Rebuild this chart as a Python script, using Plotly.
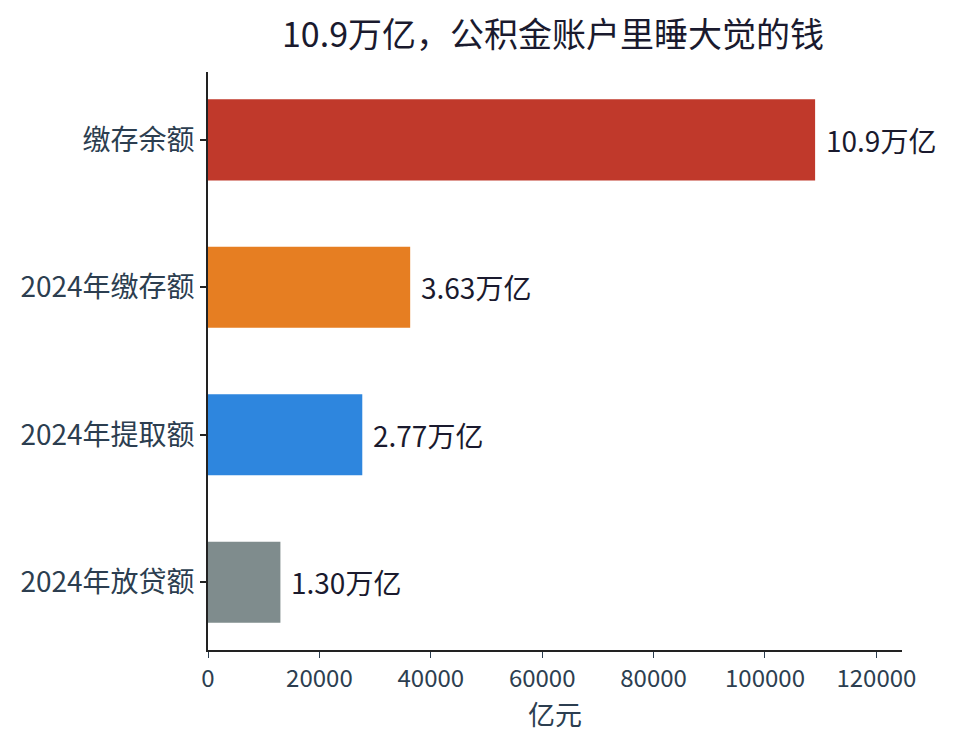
import plotly.graph_objects as go

categories = ["缴存余额", "2024年缴存额", "2024年提取额", "2024年放贷额"]
values = [109000, 36300, 27700, 13000]  # 亿元
labels = ["10.9万亿", "3.63万亿", "2.77万亿", "1.30万亿"]
colors = ["#c0392b", "#e67e22", "#2e86de", "#7f8c8d"]
xTicks = [0, 20000, 40000, 60000, 80000, 100000, 120000]

font = "Noto Sans CJK SC"

# page body has an 8px margin, so the figure is a bit smaller and shifted
W, H = 951, 728
L, R, T, B = 196, 57, 64, 86

fig = go.Figure(go.Bar(
    x=values, y=categories, orientation="h",
    marker=dict(color=colors, line=dict(width=0)),
    width=0.55, hoverinfo="skip"
))

for v, c, t in zip(values, categories, labels):
    fig.add_annotation(
        x=v, y=c, text=t, showarrow=False,
        xanchor="left", yanchor="middle", xshift=9,
        font=dict(family=font, size=28, color="#1a1a2e")
    )

fig.update_layout(
    width=W, height=H,
    margin=dict(l=L, r=R, t=T, b=B),
    paper_bgcolor="white", plot_bgcolor="white",
    showlegend=False,
    title=dict(
        text="10.9万亿，公积金账户里睡大觉的钱",
        x=(L + W - R) / 2 / W, xanchor="center",
        xref="container", yref="container",
        y=1 - 27 / H, yanchor="middle",
        font=dict(family=font, size=34, color="#1a1a2e")
    ),
    font=dict(family=font, color="#2c3e50")
)

fig.update_xaxes(
    range=[0, 124600],
    tickvals=xTicks, tickformat="d",
    showgrid=False, zeroline=False,
    showline=True, linecolor="#222222", linewidth=1.6,
    ticks="outside", ticklen=6, tickcolor="#2c3e50", tickwidth=1.2,
    tickfont=dict(family=font, size=24, color="#2c3e50"),
    title=dict(text="亿元", standoff=4, font=dict(family=font, size=27, color="#2c3e50"))
)

fig.update_yaxes(
    range=[3.46, -0.46],
    showgrid=False, zeroline=False,
    showline=True, linecolor="#222222", linewidth=1.6,
    ticks="outside", ticklen=6, tickcolor="#222222", tickwidth=1.6,
    tickfont=dict(family=font, size=28, color="#2c3e50")
)

fig.write_html("out.html")
